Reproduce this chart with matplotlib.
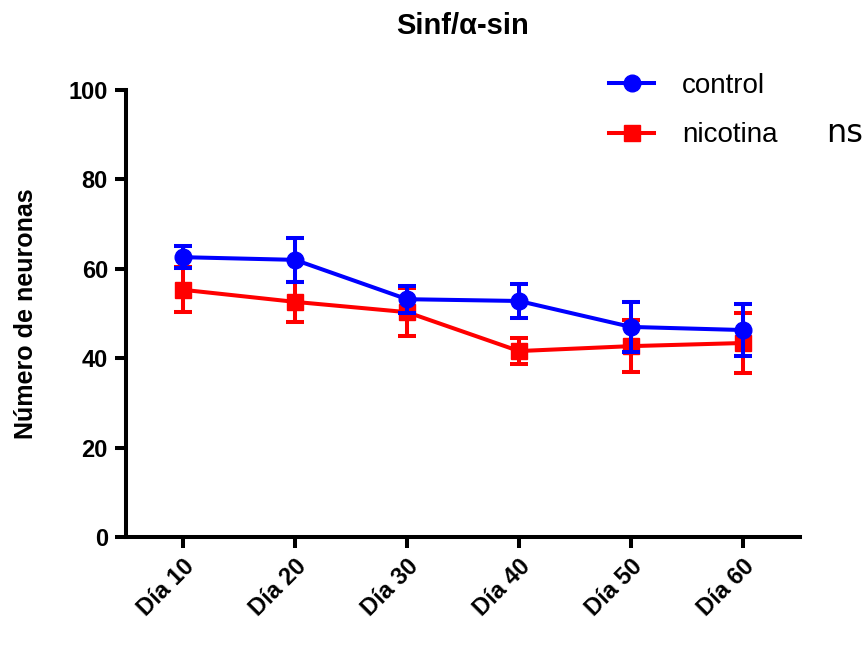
import numpy as np
import matplotlib
matplotlib.use("Agg")
from matplotlib import pyplot as plt
from matplotlib.lines import Line2D

# datos
dias = ["Día 10", "Día 20", "Día 30", "Día 40", "Día 50", "Día 60"]

control_media = [62.6, 62.0, 53.2, 52.8, 47.0, 46.3]
control_err   = [2.4, 5.0, 3.0, 3.7, 5.5, 5.9]

nicotina_media = [55.3, 52.6, 50.3, 41.6, 42.7, 43.4]
nicotina_err   = [5.0, 4.5, 5.3, 3.0, 5.8, 6.7]

yticks = [0, 20, 40, 60, 80, 100]

AZUL = '#0000ff'
ROJO = '#ff0000'


def main():

    plt.rcParams['font.family'] = ['Liberation Sans', 'DejaVu Sans']

    fig = plt.figure( figsize=(8.67, 6.46), dpi=100 )
    ax  = fig.add_axes( [0.1453, 0.1687, 0.7774, 0.692] )

    x = np.arange( len(dias) )

    # nicotina primero, control encima
    ax.errorbar( x, nicotina_media, yerr=nicotina_err, color=ROJO, marker='s',
                 markersize=11.5, linewidth=2.9, elinewidth=2.9, capsize=6.5, capthick=2.9,
                 zorder=3 )
    ax.errorbar( x, control_media, yerr=control_err, color=AZUL, marker='o',
                 markersize=12, linewidth=2.9, elinewidth=2.9, capsize=6.5, capthick=2.9,
                 zorder=4 )

    ax.set_xlim( -0.51, 5.51 )
    ax.set_ylim( 0, 100 )
    ax.set_xticks( x )
    ax.set_xticklabels( dias, rotation=45, ha='right', rotation_mode='anchor',
                        fontsize=17, fontweight='bold' )
    ax.set_yticks( yticks )
    ax.set_yticklabels( [str(v) for v in yticks], fontsize=17, fontweight='bold' )

    for s in ['top', 'right']:
        ax.spines[s].set_visible( False )
    for s in ['left', 'bottom']:
        ax.spines[s].set_linewidth( 2.9 )

    ax.tick_params( axis='both', width=2.9, length=8, pad=5 )

    ax.set_ylabel( "Número de neuronas", fontsize=18, fontweight='bold', labelpad=22 )
    ax.set_title( "Sinf/α-sin", fontsize=21, fontweight='bold', pad=40 )

    # leyenda solo con linea y marcador
    h = [ Line2D( [], [], color=AZUL, marker='o', markersize=12, linewidth=2.9 ),
          Line2D( [], [], color=ROJO, marker='s', markersize=11.5, linewidth=2.9 ) ]
    fig.legend( h, ['control', 'nicotina'], loc='upper left',
                bbox_to_anchor=(0.674, 0.926), frameon=False, fontsize=20,
                handlelength=1.62, labelspacing=0.85, handletextpad=1.0 )

    fig.text( 0.953, 0.794, "ns", fontsize=23, ha='left', va='center',
              family='DejaVu Sans' )

    fig.savefig( "out.png", dpi=100 )


if __name__ == "__main__":
    main()
